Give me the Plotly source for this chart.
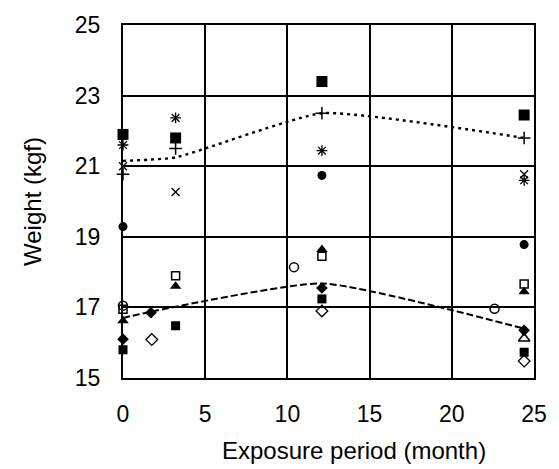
import plotly.graph_objects as go

# Exposure periods (month) and measured weights (kgf) for each specimen group
sq_hi_x = [0, 3.2, 12.1, 24.4]
sq_hi_y = [21.9, 21.8, 23.4, 22.45]

plus_x = [0, 3.2, 12.1, 24.4]
plus_y = [20.77, 21.5, 22.5, 21.8]

star_x = [0, 3.2, 12.1, 24.4]
star_y = [21.6, 22.37, 21.44, 20.6]

cross_x = [0, 3.2, 24.4]
cross_y = [21.0, 20.27, 20.77]

fcirc_x = [0, 12.1, 24.4]
fcirc_y = [19.29, 20.74, 18.78]

osq_x = [0, 3.2, 12.1, 24.4]
osq_y = [16.95, 17.9, 18.45, 17.66]

ftri_x = [0, 3.2, 12.1, 24.4]
ftri_y = [16.62, 17.6, 18.64, 17.44]

ocirc_x = [0, 10.4, 22.6]
ocirc_y = [17.05, 18.14, 16.96]

fdia_x = [0, 1.7, 12.1, 24.4]
fdia_y = [16.1, 16.85, 17.55, 16.35]

sq_lo_x = [0, 3.2, 12.1, 24.4]
sq_lo_y = [15.8, 16.48, 17.24, 15.73]

odia_x = [1.75, 12.1, 24.4]
odia_y = [16.09, 16.9, 15.48]

otri_x = [24.4]
otri_y = [16.12]

# Mean trend curves
trend_hi_x = [0, 3.2, 12.1, 24.4]
trend_hi_y = [21.15, 21.25, 22.5, 21.8]

trend_lo_x = [0, 1.7, 12.1, 24.4]
trend_lo_y = [16.7, 16.88, 17.68, 16.4]

x_ticks = [0, 5, 10, 15, 20, 25]
y_ticks = [15, 17, 19, 21, 23, 25]

fig = go.Figure()

fig.add_trace(go.Scatter(x=trend_hi_x, y=trend_hi_y, mode="lines",
                         line=dict(color="black", width=2.4, dash="3px,4px",
                                   shape="spline", smoothing=0.45),
                         hoverinfo="skip"))
fig.add_trace(go.Scatter(x=trend_lo_x, y=trend_lo_y, mode="lines",
                         line=dict(color="black", width=2, dash="7px,3px",
                                   shape="spline", smoothing=0.5),
                         hoverinfo="skip"))

series = [
    (sq_hi_x, sq_hi_y, "square", 11, 0),
    (plus_x, plus_y, "cross-thin-open", 9, 1.5),
    (star_x, star_y, "asterisk-open", 9, 1.3),
    (cross_x, cross_y, "x-thin-open", 8, 1.3),
    (fcirc_x, fcirc_y, "circle", 9, 0),
    (osq_x, osq_y, "square-open", 8, 1.5),
    (ftri_x, ftri_y, "triangle-up", 10, 0),
    (ocirc_x, ocirc_y, "circle-open", 9, 1.5),
    (fdia_x, fdia_y, "diamond", 9, 0),
    (sq_lo_x, sq_lo_y, "square", 9, 0),
    (odia_x, odia_y, "diamond-open", 9, 1.3),
    (otri_x, otri_y, "triangle-up-open", 10, 1.5),
]

for sx, sy, sym, size, lw in series:
    fig.add_trace(go.Scatter(
        x=sx, y=sy, mode="markers", cliponaxis=False,
        marker=dict(symbol=sym, size=size, color="black",
                    line=dict(color="black", width=lw)),
    ))

font = dict(family="Liberation Sans, Arial, sans-serif", color="black")

fig.update_layout(
    width=559, height=469,
    margin=dict(l=123, r=23, t=21, b=91),
    paper_bgcolor="white", plot_bgcolor="white",
    showlegend=False,
    font=font,
    annotations=[dict(
        text="Exposure period (month)", xref="paper", yref="paper",
        x=0.562, y=-0.205, xanchor="center", yanchor="middle",
        showarrow=False, font=dict(size=24),
    )],
)
fig.update_xaxes(
    range=[0, 25], tickvals=x_ticks, ticks="",
    showgrid=True, gridcolor="black", gridwidth=1.5, zeroline=False,
    showline=True, linecolor="black", linewidth=2, mirror=True,
    tickfont=dict(size=23), ticklabelstandoff=14,
)
fig.update_yaxes(
    range=[15, 25], tickvals=y_ticks, ticks="",
    showgrid=True, gridcolor="black", gridwidth=1.5, zeroline=False,
    showline=True, linecolor="black", linewidth=2, mirror=True,
    tickfont=dict(size=23), ticklabelstandoff=16,
    title=dict(text="Weight (kgf)", font=dict(size=24), standoff=26),
)

fig.write_html("out.html")
